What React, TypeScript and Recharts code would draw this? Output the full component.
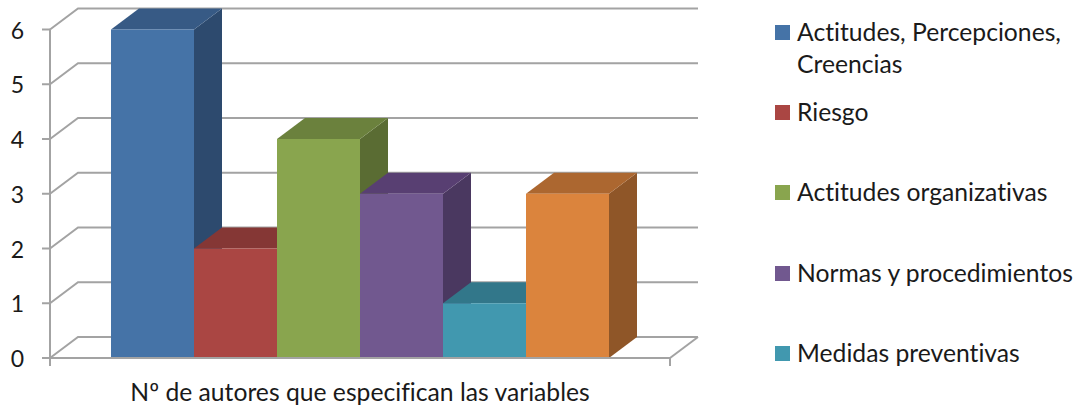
import React from "react";
import { BarChart, Bar, XAxis, YAxis, CartesianGrid, Legend } from "recharts";

const categories = ["Nº de autores que especifican las variables"];
const seriesKeys = ["actitudes", "riesgo", "organizativas", "normas", "medidas", "otros"];
const seriesNames = [
  "Actitudes, Percepciones, Creencias",
  "Riesgo",
  "Actitudes organizativas",
  "Normas y procedimientos",
  "Medidas preventivas",
  "",
];
const seriesValues = [6, 2, 4, 3, 1, 3];
const yTicks = [0, 1, 2, 3, 4, 5, 6];

const frontColors = ["#4573A7", "#AA4643", "#89A54E", "#71588F", "#4198AF", "#DB843D"];
const topColors = ["#375A85", "#853735", "#6B813D", "#583F72", "#32778A", "#AC6730"];
const sideColors = ["#2D4A6E", "#6F2D2B", "#5A6C33", "#4A3860", "#2A6373", "#8F5628"];

const data = categories.map((name) => {
  const row: Record<string, string | number> = { name };
  seriesKeys.forEach((k, i) => (row[k] = seriesValues[i]));
  return row;
});

const DX = 28;
const DY = 21;
const GRID = "#A3A3A3";
const TEXT = "#1A1A1A";
const FONT = "Lato, sans-serif";
const NO_LIGA = { fontVariantLigatures: "none" } as const;

const Box3D = (props: any) => {
  const { x, y, width, height, index } = props;
  const i = props.seriesIndex ?? index;
  const r = x + width;
  const b = y + height;
  return (
    <g>
      <polygon
        points={`${r},${y} ${r + DX},${y - DY} ${r + DX},${b - DY} ${r},${b}`}
        fill={sideColors[i]}
      />
      <polygon
        points={`${x},${y} ${x + DX},${y - DY} ${r + DX},${y - DY} ${r},${y}`}
        fill={topColors[i]}
      />
      <rect x={x} y={y} width={width} height={height} fill={frontColors[i]} />
    </g>
  );
};

// back wall lines: each value gets a diagonal on the side wall + a line along the back
const gridLine = (props: any) => {
  const { x1, x2, y1, index } = props;
  const isFloor = y1 > 340;
  return (
    <g key={`grid-${index}`} fill="none" stroke={GRID} strokeWidth={2}>
      <polyline points={`${x1},${y1} ${x1 + DX},${y1 - DY} ${x2 + DX},${y1 - DY}`} />
      {isFloor && (
        <>
          <polyline points={`${x2 + DX},${y1 - DY} ${x2},${y1}`} />
          <line x1={x1} y1={y1} x2={x1} y2={y1 + 8} />
          <line x1={x2} y1={y1} x2={x2} y2={y1 + 8} />
        </>
      )}
    </g>
  );
};

const legendCenters = [48, 112, 192, 273, 353];

const LegendList = (props: any) => {
  const items = (props.payload || []).filter((p: any) => p.value);
  return (
    <div style={{ position: "relative", width: 308, height: 400, fontFamily: FONT, fontSize: 24.7, color: TEXT, ...NO_LIGA }}>
      {items.map((item: any, i: number) => {
        const twoLines = i === 0;
        const top = legendCenters[i] - (twoLines ? 32 : 16);
        return (
          <div key={item.value} style={{ position: "absolute", left: 0, top, width: 308, lineHeight: "32px" }}>
            <span
              style={{
                position: "absolute",
                left: 0,
                top: 9,
                width: 15,
                height: 15,
                background: item.color,
              }}
            />
            <div style={{ marginLeft: 22, width: 286 }}>{item.value}</div>
          </div>
        );
      })}
    </div>
  );
};

export default function App() {
  return (
    <div style={{ position: "absolute", left: 0, top: 0, width: 1083, height: 409, background: "#fff", overflow: "hidden" }}>
      <BarChart
        width={1083}
        height={409}
        data={data}
        margin={{ top: 29.5, right: 413, bottom: 0, left: 0 }}
        barCategoryGap={61}
        barGap={0}
      >
        <CartesianGrid horizontal={gridLine} vertical={false} />
        <XAxis
          dataKey="name"
          height={51}
          axisLine={{ stroke: GRID, strokeWidth: 2 }}
          tickLine={false}
          tick={{ fill: TEXT, fontSize: 24.7, fontFamily: FONT, dy: 17, style: NO_LIGA }}
        />
        <YAxis
          width={50}
          domain={[0, 6]}
          ticks={yTicks}
          interval={0}
          axisLine={{ stroke: GRID, strokeWidth: 2 }}
          tickLine={{ stroke: GRID, strokeWidth: 2 }}
          tickSize={8}
          tickMargin={18}
          tick={{ fill: TEXT, fontSize: 23, fontFamily: FONT, dy: 1 }}
        />
        {seriesKeys.map((k, i) => (
          <Bar
            key={k}
            dataKey={k}
            name={seriesNames[i]}
            fill={frontColors[i]}
            legendType={seriesNames[i] ? "square" : "none"}
            isAnimationActive={false}
            shape={(p: any) => <Box3D {...p} seriesIndex={i} />}
          />
        ))}
        <Legend
          layout="vertical"
          align="center"
          verticalAlign="middle"
          itemSorter={null}
          wrapperStyle={{ position: "absolute", left: 775, top: 0, width: 308 }}
          content={LegendList}
        />
      </BarChart>
    </div>
  );
}
